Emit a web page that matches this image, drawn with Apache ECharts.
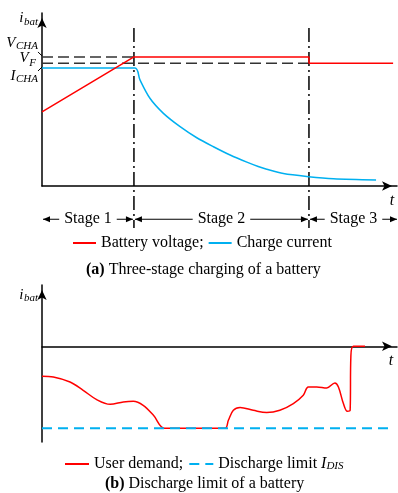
<!DOCTYPE html>
<html>
<head>
<meta charset="utf-8">
<script src="https://cdn.jsdelivr.net/npm/echarts@6/dist/echarts.min.js"></script>
<style>
  html, body { margin: 0; padding: 0; background: #fff; }
  #chart { width: 398px; height: 493px; }
</style>
</head>
<body>
<div id="chart"></div>
<script>
// ---- (a) Three-stage charging ----
const stageNames = ['Stage 1', 'Stage 2', 'Stage 3'];
const stageBounds = [0, 25.9, 75.2, 100];
const vCha = 7.46;
const vF = 7.1;
const iCha = 6.82;
const voltage = [[0, 4.28], [25.9, 7.46], [75.2, 7.46], [75.2, 7.1], [98.9, 7.1]];
const current = [
  [0, 6.82], [26.2, 6.82], [27.6, 6.13], [30.4, 5.07], [34.2, 4.20], [38.9, 3.43],
  [43.6, 2.79], [48.3, 2.27], [53.0, 1.79], [57.7, 1.38], [60.9, 1.13], [63.3, 0.97],
  [68.0, 0.72], [75.1, 0.54], [82.1, 0.42], [94.1, 0.35]
];

// ---- (b) Discharge limit ----
const iDis = -8.57;
const demand = [
  [0, -3.13], [3.2, -3.21], [7.9, -3.73], [11.6, -4.6], [15.4, -5.57], [19.2, -6.06],
  [22.9, -5.82], [25.7, -5.75], [28.5, -6.17], [31.4, -7.21], [34.6, iDis], [51.5, iDis],
  [52.5, -7.73], [53.9, -6.69], [55.8, -6.4], [59.5, -6.69], [63.3, -6.93], [67.0, -6.69],
  [70.8, -5.99], [73.6, -5.12], [75.0, -4.25], [77.4, -4.25], [80.2, -4.36], [82.5, -3.83],
  [83.5, -4.25], [84.9, -5.99], [86.0, -6.79], [86.8, -6.69], [87.0, -1.12], [87.7, 0], [91.0, 0]
];
const limit = [[0, iDis], [97.5, iDis]];

const FONT = '"Liberation Serif", "Times New Roman", serif';
const RED = '#ff0000';
const BLUE = '#00b0f0';

const measureCtx = document.createElement('canvas').getContext('2d');
function textWidth(str, font) {
  measureCtx.font = font;
  return measureCtx.measureText(str).width;
}

// Italic symbol with a subscript, right edge at xr; main letter centred at y, subscript centred at y + dy
function subLabel(xr, y, main, sub, dy) {
  const subFont = 'italic 11px ' + FONT;
  const w = textWidth(sub, subFont);
  return [
    {
      type: 'text', silent: true, x: xr, y: y + dy,
      style: { text: sub, font: subFont, fill: '#000', align: 'right', verticalAlign: 'middle' }
    },
    {
      type: 'text', silent: true, x: xr - w - 0.5, y: y,
      style: { text: main, font: 'italic 15px ' + FONT, fill: '#000', align: 'right', verticalAlign: 'middle' }
    }
  ];
}

function seg(a, b, style) {
  return { type: 'line', silent: true, shape: { x1: a[0], y1: a[1], x2: b[0], y2: b[1] }, style: style };
}

function arrowHead(tip, dir) {
  // dir: +1 points right, -1 points left
  const L = 7, W = 3;
  return {
    type: 'polygon', silent: true,
    shape: { points: [[tip[0], tip[1]], [tip[0] - dir * L, tip[1] - W], [tip[0] - dir * L, tip[1] + W]] },
    style: { fill: '#000' }
  };
}

// Annotations of panel (a): reference levels, stage dividers, stage arrows, labels
function renderA(params, api) {
  let c = [];
  const dash = { stroke: '#333', lineWidth: 1.5, lineDash: [11, 5] };
  c.push(seg(api.coord([0, vCha]), api.coord([stageBounds[1], vCha]), dash));
  c.push(seg(api.coord([0, vF]), api.coord([stageBounds[2], vF]), dash));

  const dashDot = { stroke: '#000', lineWidth: 1.5, lineDash: [14, 4, 2, 4] };
  for (let k = 1; k <= 2; k++) {
    c.push(seg(api.coord([stageBounds[k], 9.13]), api.coord([stageBounds[k], -2.43]), dashDot));
  }

  const rowY = -1.92;
  for (let k = 0; k < stageNames.length; k++) {
    const a = api.coord([stageBounds[k], rowY]);
    const b = api.coord([stageBounds[k + 1], rowY]);
    const x0 = a[0] + 1, x1 = b[0] - (k === stageNames.length - 1 ? 0 : 1);
    c.push(seg([x0, a[1]], [x1, a[1]], { stroke: '#000', lineWidth: 1.1 }));
    c.push(arrowHead([x0, a[1]], -1));
    c.push(arrowHead([x1, a[1]], 1));
    c.push({
      type: 'text', silent: true, x: (x0 + x1) / 2, y: a[1],
      style: {
        text: stageNames[k], fontFamily: FONT, fontSize: 16, fill: '#000',
        align: 'center', verticalAlign: 'middle', backgroundColor: '#fff', padding: [2, 5]
      }
    });
  }

  const top = api.coord([0, 10]);
  c = c.concat(subLabel(top[0] - 4, top[1] + 5.5, 'i', 'bat', 4));

  const pC = api.coord([0, vCha]);
  c = c.concat(subLabel(pC[0] - 4, pC[1] - 13.5, 'V', 'CHA', 3));
  c.push(seg([pC[0] - 4, pC[1] - 5], [pC[0], pC[1] - 1], { stroke: '#000', lineWidth: 1 }));
  const pF = api.coord([0, vF]);
  c = c.concat(subLabel(pF[0] - 6, pF[1] - 5.5, 'V', 'F', 5));
  const pI = api.coord([0, iCha]);
  c = c.concat(subLabel(pI[0] - 4, pI[1] + 8.5, 'I', 'CHA', 2.5));
  c.push(seg([pI[0] - 4, pI[1] + 3], [pI[0], pI[1] - 1], { stroke: '#000', lineWidth: 1 }));

  const tEnd = api.coord([100, 0]);
  c.push({
    type: 'text', silent: true, x: tEnd[0] - 5, y: tEnd[1] + 15,
    style: { text: 't', fontFamily: FONT, fontStyle: 'italic', fontSize: 16, fill: '#000', align: 'center', verticalAlign: 'middle' }
  });
  return { type: 'group', children: c };
}

// Annotations of panel (b): axis names
function renderB(params, api) {
  let c = [];
  const top = api.coord([0, 6.4]);
  c = c.concat(subLabel(top[0] - 4, top[1] + 10.5, 'i', 'bat', 3));
  const tEnd = api.coord([100, 0]);
  c.push({
    type: 'text', silent: true, x: tEnd[0] - 6, y: tEnd[1] + 15,
    style: { text: 't', fontFamily: FONT, fontStyle: 'italic', fontSize: 16, fill: '#000', align: 'center', verticalAlign: 'middle' }
  });
  return { type: 'group', children: c };
}

function axisCommon(extra) {
  return Object.assign({
    type: 'value',
    axisLine: { show: true, symbol: ['none', 'arrow'], symbolSize: [7, 10], symbolOffset: [0, -5], lineStyle: { color: '#000', width: 1.5 } },
    axisTick: { show: false }, axisLabel: { show: false }, splitLine: { show: false }
  }, extra);
}

const chart = echarts.init(document.getElementById('chart'), null, { renderer: 'canvas' });
chart.setOption({
  animation: false,
  backgroundColor: '#fff',
  textStyle: { fontFamily: FONT },
  grid: [
    { left: 42, top: 13, width: 355, height: 173 },
    { left: 42, top: 285, width: 355, height: 157 }
  ],
  xAxis: [
    axisCommon({ gridIndex: 0, min: 0, max: 100 }),
    axisCommon({ gridIndex: 1, min: 0, max: 100 })
  ],
  yAxis: [
    axisCommon({ gridIndex: 0, min: 0, max: 10 }),
    axisCommon({ gridIndex: 1, min: -10, max: 6.4 })
  ],
  legend: [
    {
      data: ['Battery voltage', 'Charge current'], left: 72, top: 235, padding: 0,
      itemWidth: 23, itemHeight: 14, itemGap: 4,
      itemStyle: { opacity: 0 },
      formatter: n => n === 'Battery voltage' ? n + ';' : n,
      textStyle: { fontFamily: FONT, fontSize: 16, color: '#000' }
    },
    {
      data: ['User demand', 'Discharge limit'], left: 64, top: 456, padding: 0,
      itemWidth: 24, itemHeight: 14, itemGap: 5,
      itemStyle: { opacity: 0 },
      formatter: n => n === 'User demand' ? '{n|' + n + ';}' : '{n|' + n + ' }{i|I}{s|DIS}',
      textStyle: {
        fontFamily: FONT, fontSize: 16, color: '#000',
        rich: {
          n: { fontFamily: FONT, fontSize: 16, color: '#000', lineHeight: 16, verticalAlign: 'middle' },
          i: { fontFamily: FONT, fontStyle: 'italic', fontSize: 16, color: '#000', lineHeight: 16, verticalAlign: 'middle' },
          s: { fontFamily: FONT, fontStyle: 'italic', fontSize: 11, color: '#000', lineHeight: 16, verticalAlign: 'bottom' }
        }
      }
    }
  ],
  title: [
    {
      text: '{b|(a)} Three-stage charging of a battery', left: 86, top: 262, padding: 0,
      textStyle: {
        fontFamily: FONT, fontSize: 16, fontWeight: 'normal', color: '#000',
        rich: { b: { fontFamily: FONT, fontSize: 16, fontWeight: 'bold', color: '#000' } }
      }
    },
    {
      text: '{b|(b)} Discharge limit of a battery', left: 105, top: 476, padding: 0,
      textStyle: {
        fontFamily: FONT, fontSize: 16, fontWeight: 'normal', color: '#000',
        rich: { b: { fontFamily: FONT, fontSize: 16, fontWeight: 'bold', color: '#000' } }
      }
    }
  ],
  series: [
    {
      type: 'custom', xAxisIndex: 0, yAxisIndex: 0, data: [[0, 0]], renderItem: renderA, silent: true, z: 1
    },
    {
      name: 'Charge current', type: 'line', xAxisIndex: 0, yAxisIndex: 0, data: current,
      symbol: 'none', smooth: 0.3, lineStyle: { color: BLUE, width: 1.5 }, itemStyle: { color: BLUE }, z: 3
    },
    {
      name: 'Battery voltage', type: 'line', xAxisIndex: 0, yAxisIndex: 0, data: voltage,
      symbol: 'none', lineStyle: { color: RED, width: 1.5 }, itemStyle: { color: RED }, z: 4
    },
    {
      type: 'custom', xAxisIndex: 1, yAxisIndex: 1, data: [[0, 0]], renderItem: renderB, silent: true, z: 1
    },
    {
      name: 'User demand', type: 'line', xAxisIndex: 1, yAxisIndex: 1, data: demand,
      symbol: 'none', smooth: 0.35, lineStyle: { color: RED, width: 1.5 }, itemStyle: { color: RED }, z: 3
    },
    {
      name: 'Discharge limit', type: 'line', xAxisIndex: 1, yAxisIndex: 1, data: limit,
      symbol: 'none', lineStyle: { color: BLUE, width: 2, type: [10, 6] }, itemStyle: { color: BLUE }, z: 4
    }
  ]
});
</script>
</body>
</html>
